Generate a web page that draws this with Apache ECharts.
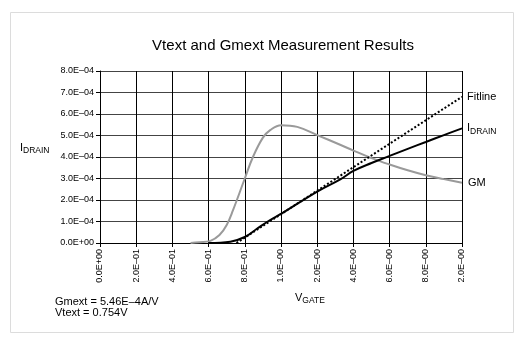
<!DOCTYPE html>
<html>
<head>
<meta charset="utf-8">
<script src="https://cdn.jsdelivr.net/npm/echarts@6/dist/echarts.min.js"></script>
<style>
  html, body { margin: 0; padding: 0; background: #fff; }
  #chart { width: 526px; height: 342px; }
</style>
</head>
<body>
<div id="chart"></div>
<script>
// Tick labels as printed on the axes
const xTickLabels = ['0.0E+00', '2.0E–01', '4.0E–01', '6.0E–01', '8.0E–01', '1.0E–00',
                     '2.0E–00', '4.0E–00', '6.0E–00', '8.0E–00', '2.0E–00'];
const yTickLabels = ['0.0E+00', '1.0E–04', '2.0E–04', '3.0E–04', '4.0E–04',
                     '5.0E–04', '6.0E–04', '7.0E–04', '8.0E–04'];

// Gate voltage samples (V)
const gmX = [0.50, 0.55, 0.61, 0.66, 0.70, 0.735, 0.80, 0.845, 0.90, 0.94, 1.00, 1.09, 1.20, 1.33, 1.40, 1.50, 1.60, 1.70, 1.80, 1.90, 2.00];
// Transconductance GM (A/V)
const gmY = [0, 0.03e-4, 0.10e-4, 0.37e-4, 0.84e-4, 1.53e-4, 3.0e-4, 4.0e-4, 4.9e-4, 5.25e-4, 5.48e-4, 5.4e-4, 5.02e-4, 4.56e-4, 4.3e-4, 3.95e-4, 3.65e-4, 3.38e-4, 3.15e-4, 2.97e-4, 2.8e-4];

const idX = [0.60, 0.72, 0.80, 0.865, 0.94, 1.00, 1.20, 1.33, 1.40, 1.50, 1.60, 1.70, 1.80, 1.90, 2.00];
// Drain current IDRAIN (A)
const idY = [0, 0.06e-4, 0.28e-4, 0.65e-4, 1.07e-4, 1.35e-4, 2.39e-4, 2.97e-4, 3.35e-4, 3.72e-4, 4.05e-4, 4.38e-4, 4.7e-4, 5.02e-4, 5.33e-4];

// Linear fit through the max-GM point (Vtext intercept)
const fitX = [0.754, 2.0];
const fitY = [0, 6.80e-4];

const gmext = '5.46E–4A/V';
const vtext = '0.754V';

const zip = (xs, ys) => xs.map((x, i) => [x, ys[i]]);
const FONT = 'Liberation Sans, Arial, sans-serif';

// Main letter plus a lowered subscript
const subRich = {
  a: { fontSize: 11, color: '#000', fontFamily: FONT, verticalAlign: 'top', lineHeight: 13 },
  b: { fontSize: 8.5, color: '#000', fontFamily: FONT, verticalAlign: 'top', lineHeight: 13, padding: [4, 0, 0, 0] }
};

const chart = echarts.init(document.getElementById('chart'));
chart.setOption({
  animation: false,
  backgroundColor: '#fff',
  textStyle: { fontFamily: FONT },
  grid: { left: 100, right: 64, top: 71, bottom: 99 },
  xAxis: {
    type: 'value', min: 0, max: 2, interval: 0.2,
    axisLine: { show: true, lineStyle: { color: '#000', width: 1 } },
    axisTick: { show: true, length: 4, lineStyle: { color: '#000' } },
    splitLine: { show: true, lineStyle: { color: '#000', width: 1 } },
    axisLabel: {
      rotate: 90, fontSize: 9, color: '#000', margin: 6, fontFamily: FONT,
      formatter: v => xTickLabels[Math.round(v / 0.2)]
    }
  },
  yAxis: {
    type: 'value', min: 0, max: 8e-4, interval: 1e-4,
    axisLine: { show: true, lineStyle: { color: '#000', width: 1 } },
    axisTick: { show: true, length: 4, lineStyle: { color: '#000' } },
    splitLine: { show: true, lineStyle: { color: '#444', width: 1 } },
    axisLabel: {
      fontSize: 9, color: '#000', margin: 6, fontFamily: FONT,
      formatter: v => yTickLabels[Math.round(v / 1e-4)]
    }
  },
  series: [
    {
      name: 'GM', type: 'line', smooth: 0.4, symbol: 'none',
      data: zip(gmX, gmY),
      lineStyle: { color: '#9a9a9a', width: 2 },
      endLabel: { show: true, formatter: 'GM', color: '#000', fontSize: 11, distance: 6, fontFamily: FONT }
    },
    {
      name: 'IDRAIN', type: 'line', smooth: 0.4, symbol: 'none',
      data: zip(idX, idY),
      lineStyle: { color: '#000', width: 2 },
      endLabel: {
        show: true, distance: 5, formatter: '{a|I}{b|DRAIN}', offset: [0, 1], rich: subRich
      }
    },
    {
      name: 'Fitline', type: 'line', symbol: 'none',
      data: zip(fitX, fitY),
      lineStyle: { color: '#000', width: 2, type: [2, 2] },
      endLabel: { show: true, formatter: 'Fitline', color: '#000', fontSize: 11, distance: 5, fontFamily: FONT }
    }
  ],
  graphic: [
    { type: 'rect', silent: true, z: -1,
      shape: { x: 10.5, y: 12.5, width: 503, height: 320 },
      style: { fill: 'none', stroke: '#dcdcdc', lineWidth: 1 } },
    { type: 'text', x: 283, y: 38,
      style: { text: 'Vtext and Gmext Measurement Results', font: '15px ' + FONT, fill: '#000', textAlign: 'center' } },
    { type: 'text', x: 20, y: 142,
      style: { text: '{a|I}{b|DRAIN}', fill: '#000', rich: subRich } },
    { type: 'text', x: 295, y: 292,
      style: { text: '{a|V}{b|GATE}', fill: '#000', rich: subRich } },
    { type: 'text', x: 55, y: 296,
      style: { text: 'Gmext = ' + gmext + '\nVtext = ' + vtext, font: '11px ' + FONT, fill: '#000', lineHeight: 11 } }
  ]
});
</script>
</body>
</html>
